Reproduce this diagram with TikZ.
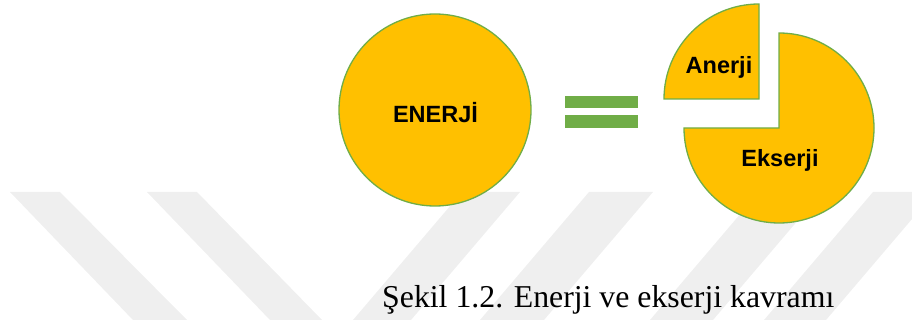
\documentclass[tikz,border=0pt]{standalone}
\usepackage{fontspec}
\setmainfont{Liberation Serif}
\newfontfamily\arialf{Liberation Sans}
\definecolor{pieyellow}{HTML}{FFC000}
\definecolor{piegreen}{HTML}{70AD47}
\definecolor{wmgray}{HTML}{EFEFEF}
\begin{document}
\begin{tikzpicture}[x=1pt,y=-1pt,
  pie/.style={fill=pieyellow,draw=piegreen,line width=1.3pt},
  lbl/.style={font=\arialf\bfseries\fontsize{23.5}{26}\selectfont,anchor=base,inner sep=0pt},
  band/.style={fill=wmgray,draw=none},
  eqbar/.style={fill=piegreen,draw=none}]
\useasboundingbox (0,0) rectangle (912,320);
% watermark bands
\fill[band] (10,192) -- (60,192) -- (187,320) -- (133,320) -- cycle;
\fill[band] (147,192) -- (197,192) -- (322,320) -- (270,320) -- cycle;
\fill[band] (462,192) -- (520,192) -- (411,320) -- (353,320) -- cycle;
\fill[band] (589,192) -- (653,192) -- (544,320) -- (480,320) -- cycle;
\fill[band] (759,192) -- (822,192) -- (713,320) -- (650,320) -- cycle;
\fill[band] (873,192) -- (935,192) -- (826,320) -- (764,320) -- cycle;
% energy circle
\node[pie,circle,minimum size=192pt,inner sep=0pt] (enerji) at (435,110) {};
\node[lbl] (enerjitxt) at (435.5,123) {ENERJİ};
% equals sign
\fill[eqbar] (565,96) rectangle (638,108);
\fill[eqbar] (565,115) rectangle (638,128);
% anerji quarter
\coordinate (ac) at (759,99);
\draw[pie] (ac) -- ++(0,-95) arc[start angle=90,end angle=180,radius=95pt] -- cycle;
\node[lbl] (anerji) at (719,74) {Anerji};
% ekserji three quarters
\coordinate (ec) at (779,128);
\draw[pie] (ec) -- ++(0,-95) arc[start angle=90,end angle=-180,radius=95pt] -- cycle;
\node[lbl] (ekserji) at (780,167) {Ekserji};
% caption
\node[anchor=base west,inner sep=0pt,font=\fontsize{31.8}{36}\selectfont] (caption) at (382,307) {Şekil 1.2. Enerji ve ekserji kavramı};
\end{tikzpicture}
\end{document}
